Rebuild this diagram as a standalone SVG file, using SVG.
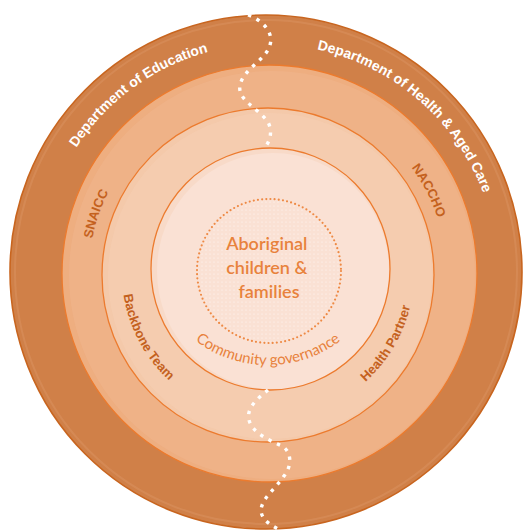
<svg xmlns="http://www.w3.org/2000/svg" width="523" height="531" viewBox="0 0 523 531">
  <style>
    .ring-line { fill: none; stroke: #EC7B2E; stroke-width: 1.3; }
    .trail { fill: none; stroke: #FFFFFF; stroke-width: 3.4; stroke-dasharray: 3.4 6; }
    .lbl-white { font-family: "Liberation Sans", Arial, sans-serif; font-weight: bold; font-size: 14px; fill: #FFFFFF; }
    .lbl-dark { font-family: "Liberation Sans", Arial, sans-serif; font-weight: bold; font-size: 13px; fill: #C4611E; }
    .lbl-hand { font-family: Lato, "Open Sans", sans-serif; fill: #E8823C; }
  </style>
  <defs>
    <pattern id="dotGrid" x="0" y="0" width="4" height="4" patternUnits="userSpaceOnUse">
      <circle cx="2" cy="2" r="0.6" fill="#FFFFFF" opacity="0.75"/>
    </pattern>
    <!-- text baselines -->
    <path id="arcEducation" d="M42.5,233.2 A229,229 0 0 1 299.9,46.2"/>
    <path id="arcHealthDept" d="M228.2,47.5 A230,230 0 0 1 497.9,281"/>
    <path id="arcSnaicc" d="M100.9,337.2 A179,179 0 0 1 175.8,119.6"/>
    <path id="arcNaccho" d="M337,110 A176,176 0 0 1 442,312"/>
    <path id="arcBackbone" d="M125.2,242.6 A146,146 0 0 0 213.3,408.4"/>
    <path id="arcHealthPartner" d="M316.3,410.8 A146,146 0 0 0 412.1,249.4"/>
    <path id="arcCommunity" d="M183.1,329.9 A120,120 0 0 0 352.9,329.9"/>
  </defs>

  <!-- outer ring: government departments -->
  <g id="ring-departments">
    <ellipse cx="266" cy="272" rx="256" ry="257" fill="#D08048" stroke="#C8651F" stroke-width="1.6"/>
    <ellipse cx="266" cy="272" rx="251" ry="252" fill="none" stroke="#D98F5E" stroke-width="2" opacity="0.6"/>
    <text class="lbl-white"><textPath href="#arcEducation" startOffset="50%" text-anchor="middle">Department of Education</textPath></text>
    <text class="lbl-white"><textPath href="#arcHealthDept" startOffset="50%" text-anchor="middle">Department of Health &amp; Aged Care</textPath></text>
  </g>

  <!-- second ring: peak bodies -->
  <g id="ring-peaks">
    <ellipse cx="269.5" cy="273.5" rx="207.5" ry="208.5" fill="#EEAE80"/>
    <!-- soft inner sheen, slightly offset -->
    <ellipse cx="272" cy="275" rx="203" ry="204" fill="#F0B48A" opacity="0.7"/>
    <ellipse cx="269.5" cy="273.5" rx="207.5" ry="208.5" class="ring-line"/>
    <text class="lbl-dark"><textPath href="#arcSnaicc" startOffset="50%" text-anchor="middle">SNAICC</textPath></text>
    <text class="lbl-dark"><textPath href="#arcNaccho" startOffset="50%" text-anchor="middle">NACCHO</textPath></text>
  </g>

  <!-- third ring: local partners -->
  <g id="ring-partners">
    <ellipse cx="268" cy="275" rx="166" ry="167" fill="#F4C9AA"/>
    <ellipse cx="270" cy="276" rx="162" ry="163" fill="#F5CDB0" opacity="0.8"/>
    <ellipse cx="268" cy="275" rx="166" ry="167" class="ring-line"/>
    <text class="lbl-dark"><textPath href="#arcBackbone" startOffset="50%" text-anchor="middle">Backbone Team</textPath></text>
    <text class="lbl-dark"><textPath href="#arcHealthPartner" startOffset="50%" text-anchor="middle">Health Partner</textPath></text>
  </g>

  <!-- inner disk: community governance -->
  <g id="ring-community">
    <ellipse cx="270.5" cy="269" rx="119.5" ry="121" fill="#F8DAC8"/>
    <ellipse cx="273" cy="271" rx="116" ry="118" fill="#FAE1D4"/>
    <ellipse cx="270.5" cy="269" rx="119.5" ry="121" class="ring-line"/>
    <text class="lbl-hand" font-size="15"><textPath href="#arcCommunity" startOffset="50%" text-anchor="middle">Community governance</textPath></text>
  </g>

  <!-- centre: children and families -->
  <g id="centre">
    <circle cx="269" cy="271" r="72" fill="url(#dotGrid)"/>
    <circle cx="269" cy="271" r="72" fill="none" stroke="#EE8A45" stroke-width="2.2" stroke-linecap="round" stroke-dasharray="0 4.2"/>
    <text class="lbl-hand" font-size="18" font-weight="600" text-anchor="middle">
      <tspan x="269" y="250">Aboriginal</tspan>
      <tspan x="269" y="274">children &amp;</tspan>
      <tspan x="269" y="298">families</tspan>
    </text>
  </g>

  <!-- dotted trail crossing the rings -->
  <g id="connectors">
    <path class="trail" d="M248,15 C262,20 274,32 270,45 C266,60 244,68 240,85 C237,100 258,108 268,122 C273,132 270,142 264,148"/>
    <path class="trail" d="M268,390 C258,398 246,408 249,420 C252,432 268,440 282,446 C292,452 292,466 284,476 C276,488 262,498 261,510 C261,520 272,526 282,531"/>
  </g>
</svg>
